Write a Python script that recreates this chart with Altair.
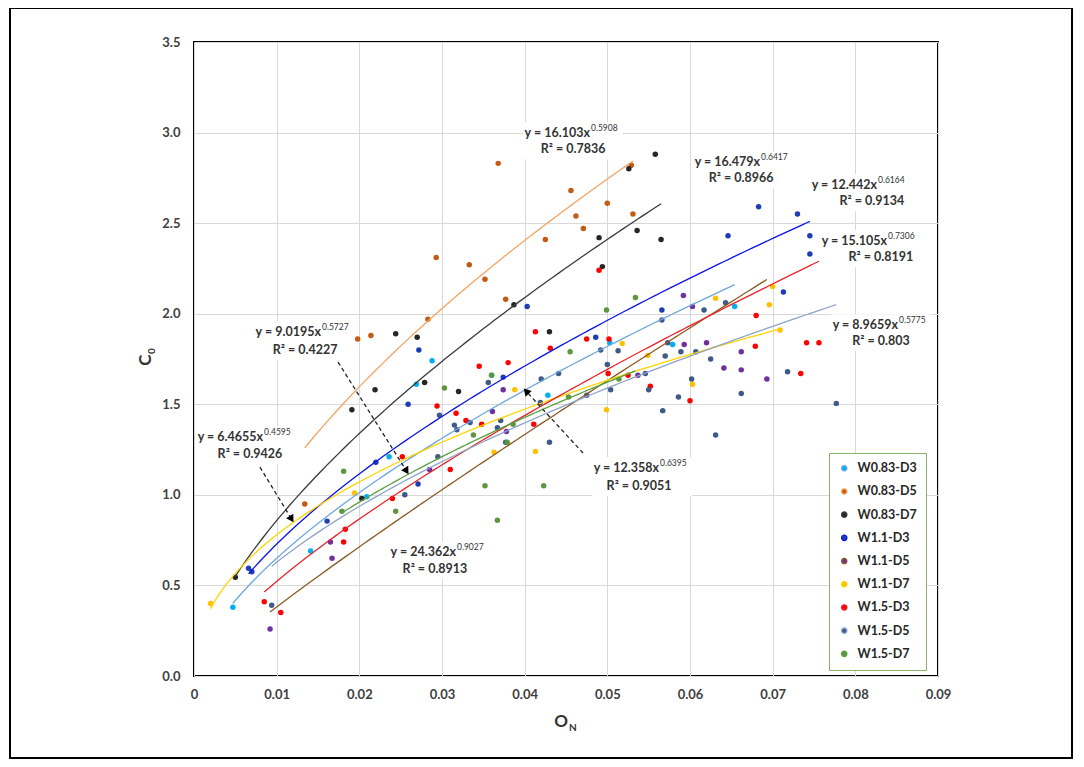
import altair as alt
import pandas as pd
import numpy as np

series = ["W0.83-D3", "W0.83-D5", "W0.83-D7", "W1.1-D3", "W1.1-D5",
          "W1.1-D7", "W1.5-D3", "W1.5-D5", "W1.5-D7"]
point_colors = ["#00B0F0", "#C55A11", "#262626", "#1F3DB5", "#7030A0",
                "#FFC000", "#FF0000", "#3F5A8A", "#5E9640"]
trend_colors = ["#6FA8DC", "#F4A460", "#3A3A3A", "#0A14E6", "#8A5A22",
                "#FFD400", "#E8242A", "#8EA4C8", "#5AA040"]
trend_widths = [1.3, 1.3, 1.3, 2.0, 1.3, 1.3, 1.3, 1.3, 1.3]

# --- observed points (O_N, C0) per series ---
w083_d3_x = [0.0047, 0.0141, 0.0209, 0.0236, 0.0269, 0.0288, 0.0360, 0.0428, 0.0503, 0.0579, 0.0654]
w083_d3_y = [0.38, 0.69, 0.99, 1.21, 1.61, 1.74, 1.66, 1.55, 1.84, 1.83, 2.04]

w083_d5_x = [0.0134, 0.0198, 0.0214, 0.0283, 0.0293, 0.0333, 0.0352, 0.0368, 0.0377, 0.0425,
             0.0456, 0.0462, 0.0471, 0.0500, 0.0529, 0.0531]
w083_d5_y = [0.95, 1.86, 1.88, 1.97, 2.31, 2.27, 2.19, 2.83, 2.08, 2.41,
             2.68, 2.54, 2.47, 2.61, 2.82, 2.55]

w083_d7_x = [0.0050, 0.0191, 0.0203, 0.0219, 0.0244, 0.0270, 0.0279, 0.0320, 0.0387, 0.0430,
             0.0490, 0.0494, 0.0526, 0.0536, 0.0558, 0.0565]
w083_d7_y = [0.545, 1.47, 0.98, 1.58, 1.89, 1.87, 1.62, 1.57, 2.05, 1.90,
             2.42, 2.26, 2.80, 2.46, 2.88, 2.41]

w11_d3_x = [0.0066, 0.0070, 0.0161, 0.0220, 0.0259, 0.0271, 0.0272, 0.0374, 0.0403, 0.0486,
            0.0566, 0.0646, 0.0683, 0.0713, 0.0730, 0.0745, 0.0745]
w11_d3_y = [0.595, 0.576, 0.855, 1.18, 1.50, 1.06, 1.80, 1.65, 2.04, 1.87,
            2.02, 2.43, 2.59, 2.12, 2.55, 2.43, 2.33]

w11_d5_x = [0.0092, 0.0165, 0.0167, 0.0285, 0.0361, 0.0374, 0.0378, 0.0537, 0.0592, 0.0593,
            0.0603, 0.0620, 0.0641, 0.0662, 0.0662, 0.0693]
w11_d5_y = [0.26, 0.74, 0.65, 1.14, 1.46, 1.58, 1.35, 1.66, 2.10, 1.83,
            2.04, 1.84, 1.70, 1.79, 1.69, 1.64]

w11_d7_x = [0.0020, 0.0194, 0.0363, 0.0388, 0.0413, 0.0499, 0.0518, 0.0549, 0.0603, 0.0631,
            0.0696, 0.0700, 0.0709]
w11_d7_y = [0.40, 1.01, 1.235, 1.58, 1.24, 1.47, 1.835, 1.77, 1.61, 2.085,
            2.05, 2.15, 1.91]

w15_d3_x = [0.0085, 0.0105, 0.0181, 0.0183, 0.0240, 0.0252, 0.0294, 0.0310, 0.0317, 0.0329,
            0.0345, 0.0348, 0.0380, 0.0411, 0.0413, 0.0431, 0.0475, 0.0490, 0.0501, 0.0502,
            0.0525, 0.0552, 0.0600, 0.0679, 0.0680, 0.0734, 0.0741, 0.0756]
w15_d3_y = [0.41, 0.35, 0.74, 0.81, 0.98, 1.21, 1.49, 1.14, 1.45, 1.41,
            1.71, 1.39, 1.73, 1.39, 1.90, 1.81, 1.86, 2.24, 1.67, 1.86,
            1.66, 1.60, 1.52, 1.82, 1.99, 1.67, 1.84, 1.84]

w15_d5_x = [0.0094, 0.0255, 0.0295, 0.0297, 0.0315, 0.0318, 0.0334, 0.0356, 0.0367, 0.0371,
            0.0377, 0.0419, 0.0420, 0.0430, 0.0441, 0.0475, 0.0492, 0.0500, 0.0504, 0.0513,
            0.0546, 0.0550, 0.0566, 0.0567, 0.0570, 0.0573, 0.0586, 0.0589, 0.0602, 0.0607,
            0.0617, 0.0625, 0.0631, 0.0643, 0.0662, 0.0718, 0.0777]
w15_d5_y = [0.39, 1.00, 1.21, 1.44, 1.385, 1.36, 1.40, 1.62, 1.37, 1.41,
            1.29, 1.51, 1.64, 1.29, 1.67, 1.55, 1.80, 1.72, 1.58, 1.795,
            1.67, 1.58, 1.965, 1.465, 1.766, 1.84, 1.54, 1.79, 1.64, 1.79,
            2.02, 1.75, 1.33, 2.06, 1.56, 1.68, 1.505]

w15_d7_x = [0.0179, 0.0181, 0.0244, 0.0303, 0.0338, 0.0352, 0.0360, 0.0367, 0.0379, 0.0386,
            0.0423, 0.0453, 0.0455, 0.0499, 0.0514, 0.0534]
w15_d7_y = [0.91, 1.13, 0.91, 1.59, 1.33, 1.05, 1.66, 0.86, 1.29, 1.39,
            1.05, 1.54, 1.79, 2.02, 1.64, 2.09]

xs_all = [w083_d3_x, w083_d5_x, w083_d7_x, w11_d3_x, w11_d5_x, w11_d7_x, w15_d3_x, w15_d5_x, w15_d7_x]
ys_all = [w083_d3_y, w083_d5_y, w083_d7_y, w11_d3_y, w11_d5_y, w11_d7_y, w15_d3_y, w15_d5_y, w15_d7_y]

# --- fitted power trend lines y = a x^b (as printed on the chart) ---
coef_a_txt = ["12.358", "16.103", "16.479", "12.442", "24.362", "6.4655", "15.105", "8.9659", "9.0195"]
coef_b_txt = ["0.6395", "0.5908", "0.6417", "0.6164", "0.9027", "0.4595", "0.7306", "0.5775", "0.5727"]
r2_txt = ["0.9051", "0.7836", "0.8966", "0.9134", "0.8913", "0.9426", "0.8191", "0.803", "0.4227"]

# label anchor positions (data units): junction x of "x"/exponent, line-1 y, R² centre x, line-2 y
lab_jx = [0.05625, 0.04790, 0.06847, 0.08262, 0.03169, 0.00835, 0.08383, 0.08516, 0.01536]
lab_y1 = [1.148, 2.997, 2.837, 2.710, 0.684, 1.319, 2.401, 1.937, 1.898]
lab_rx = [0.05383, 0.04585, 0.06617, 0.08201, 0.02915, 0.00677, 0.08310, 0.08310, 0.01343]
lab_y2 = [1.049, 2.908, 2.748, 2.621, 0.591, 1.225, 2.312, 1.849, 1.799]

# dashed leader arrows (start x, start y, tip x, tip y, head angle)
arr_x1 = [0.01742, 0.00798, 0.04706]
arr_y1 = [1.733, 1.153, 1.231]
arr_x2 = [0.02564, 0.01173, 0.04028]
arr_y2 = [1.137, 0.872, 1.567]
arr_ang = [148, 149, 317]

# ---------------- tables ----------------
pts = pd.DataFrame([
    {"series": s, "x": x, "y": y}
    for s, xl, yl in zip(series, xs_all, ys_all) for x, y in zip(xl, yl)
])

trend_rows = []
for s, xl, a, b in zip(series, xs_all, coef_a_txt, coef_b_txt):
    for x in np.linspace(min(xl), max(xl), 80):
        trend_rows.append({"series": s, "x": x, "y": float(a) * x ** float(b)})
trend = pd.DataFrame(trend_rows)

labs = pd.DataFrame({
    "series": series,
    "jx": lab_jx, "y1": lab_y1, "rx": lab_rx, "y2": lab_y2,
    "main": [f"y = {a}x" for a in coef_a_txt],
    "sup": coef_b_txt,
    "r2": [f"R² = {r}" for r in r2_txt],
})
labs["bx1"] = labs["jx"] - 0.0081
labs["bx2"] = labs["jx"] + 0.0040
labs["by1"] = labs["y1"] + 0.06
labs["by2"] = labs["y2"] - 0.055

arrows = pd.DataFrame({"x1": arr_x1, "y1": arr_y1, "x2": arr_x2, "y2": arr_y2, "ang": arr_ang})

FONT = "Lato"
xsc = alt.Scale(domain=[0, 0.09], nice=False, zero=False)
ysc = alt.Scale(domain=[0, 3.5], nice=False)

X = alt.X("x:Q", scale=xsc,
          axis=alt.Axis(values=[0, 0.01, 0.02, 0.03, 0.04, 0.05, 0.06, 0.07, 0.08, 0.09],
                        labelExpr="datum.value == 0 ? '0' : format(datum.value, '.2f')",
                        title=None, labelPadding=12, labelFlush=False))
Y = alt.Y("y:Q", scale=ysc,
          axis=alt.Axis(values=[0, 0.5, 1, 1.5, 2, 2.5, 3, 3.5], format=".1f",
                        title=None, labelPadding=14))

frame = alt.Chart(pd.DataFrame({"k": [0]})).mark_rect(
    filled=False, stroke="black", strokeWidth=2
).encode(x=alt.value(-184), x2=alt.value(878), y=alt.value(-34), y2=alt.value(716))

boxes = alt.Chart(labs).mark_rect(fill="white", stroke=None).encode(
    x=alt.X("bx1:Q", scale=xsc), x2="bx2:Q",
    y=alt.Y("by1:Q", scale=ysc), y2="by2:Q",
)

points = alt.Chart(pts).mark_circle(size=30, opacity=1).encode(
    x=X, y=Y,
    color=alt.Color("series:N", sort=series,
                    scale=alt.Scale(domain=series, range=point_colors),
                    legend=alt.Legend(title=None, orient="none", legendX=635, legendY=411,
                                      symbolType="circle", symbolSize=28,
                                      labelFont=FONT, labelFontSize=12.5, labelFontWeight="bold",
                                      labelColor="#262626", rowPadding=10.2, padding=9,
                                      strokeColor="#8DB36B", fillColor="white",
                                      labelOffset=7, labelLimit=200)),
)

lines = alt.Chart(trend).mark_line(interpolate="monotone").encode(
    x=alt.X("x:Q", scale=xsc), y=alt.Y("y:Q", scale=ysc),
    detail="series:N",
    stroke=alt.Stroke("series:N", scale=alt.Scale(domain=series, range=trend_colors), legend=None),
    strokeWidth=alt.StrokeWidth("series:N", scale=alt.Scale(domain=series, range=trend_widths), legend=None),
)

arrow_lines = alt.Chart(arrows).mark_rule(color="#222222", strokeDash=[4, 3], strokeWidth=1.3).encode(
    x=alt.X("x1:Q", scale=xsc), y=alt.Y("y1:Q", scale=ysc), x2="x2:Q", y2="y2:Q"
)
arrow_heads = alt.Chart(arrows).mark_point(shape="triangle", filled=True, color="black", size=70, opacity=1).encode(
    x=alt.X("x2:Q", scale=xsc), y=alt.Y("y2:Q", scale=ysc),
    angle=alt.Angle("ang:Q", scale=None),
)

txt_main = alt.Chart(labs).mark_text(font=FONT, fontSize=12.5, fontWeight="bold", color="#333333",
                                     align="right", baseline="middle").encode(
    x=alt.X("jx:Q", scale=xsc), y=alt.Y("y1:Q", scale=ysc), text="main:N")
txt_sup = alt.Chart(labs).mark_text(font=FONT, fontSize=8.5, fontWeight="normal", color="#333333",
                                    align="left", baseline="middle", dx=1, dy=-5).encode(
    x=alt.X("jx:Q", scale=xsc), y=alt.Y("y1:Q", scale=ysc), text="sup:N")
txt_r2 = alt.Chart(labs).mark_text(font=FONT, fontSize=12.5, fontWeight="bold", color="#333333",
                                   align="center", baseline="middle").encode(
    x=alt.X("rx:Q", scale=xsc), y=alt.Y("y2:Q", scale=ysc), text="r2:N")

# axis titles with subscripts
x_title_o = alt.Chart(pd.DataFrame({"t": ["O"]})).mark_text(
    font=FONT, fontSize=17, fontWeight="bold", color="#333333", align="center", baseline="middle"
).encode(text="t:N", x=alt.value(367), y=alt.value(680))
x_title_n = alt.Chart(pd.DataFrame({"t": ["N"]})).mark_text(
    font=FONT, fontSize=10, fontWeight="bold", color="#333333", align="left", baseline="middle"
).encode(text="t:N", x=alt.value(375), y=alt.value(686))
y_title_c = alt.Chart(pd.DataFrame({"t": ["C"]})).mark_text(
    font=FONT, fontSize=17, fontWeight="bold", color="#333333", align="center", baseline="middle", angle=270
).encode(text="t:N", x=alt.value(-48), y=alt.value(318))
y_title_0 = alt.Chart(pd.DataFrame({"t": ["0"]})).mark_text(
    font=FONT, fontSize=10, fontWeight="bold", color="#333333", align="left", baseline="middle", angle=270
).encode(text="t:N", x=alt.value(-42), y=alt.value(312))

chart = alt.layer(
    frame, boxes, points, lines, arrow_lines, arrow_heads,
    txt_main, txt_sup, txt_r2, x_title_o, x_title_n, y_title_c, y_title_0
).properties(
    width=744, height=634,
    padding={"left": 186, "top": 34, "right": 138, "bottom": 83},
    autosize=alt.AutoSizeParams(type="none"),
    background="white",
).configure_view(
    stroke="black", strokeWidth=2
).configure_axis(
    grid=True, gridColor="#D9D9D9", gridWidth=1, domain=False, ticks=False,
    labelFont=FONT, labelFontSize=13, labelFontWeight="bold", labelColor="#404040",
)

chart.save("out.html", embed_options={"renderer": "svg", "actions": False})
